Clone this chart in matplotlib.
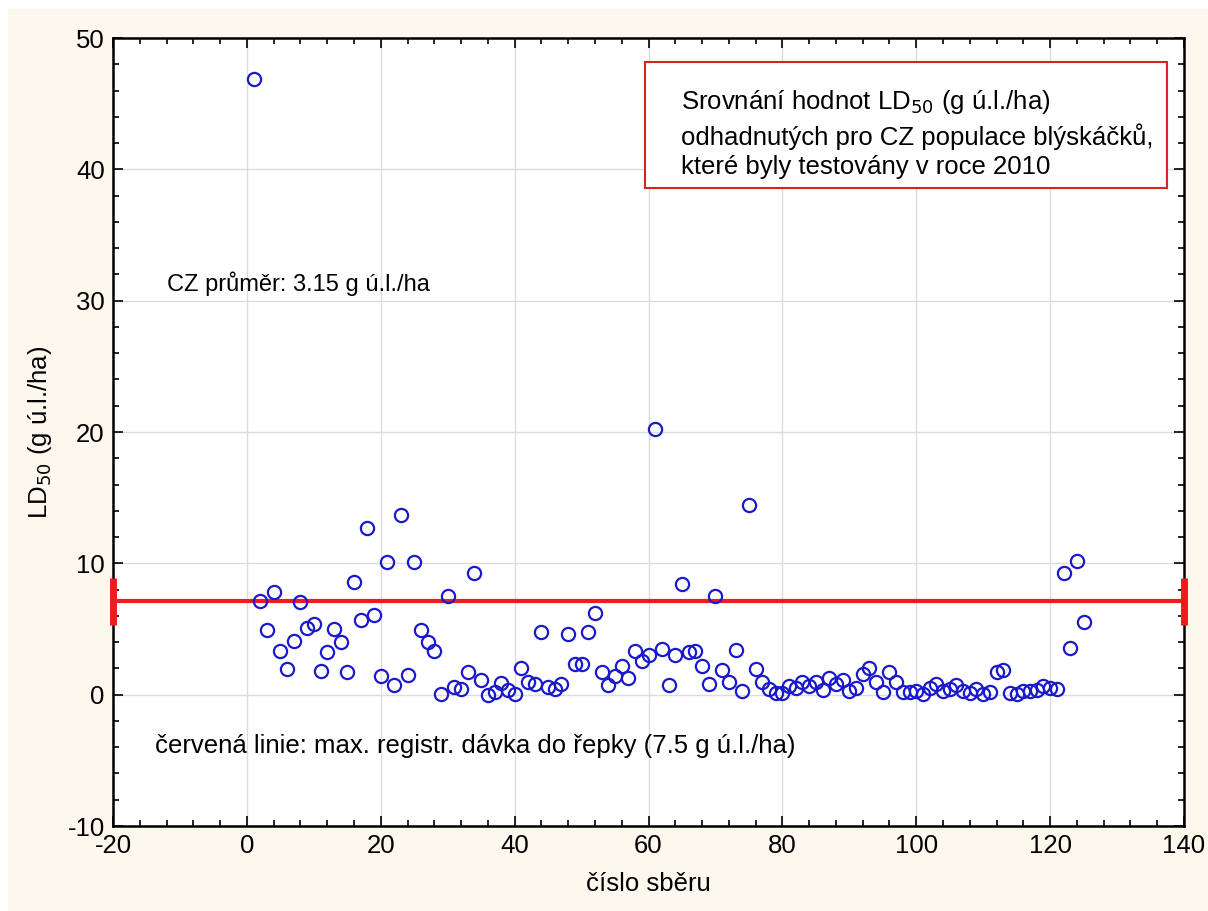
import matplotlib
matplotlib.use("Agg")
import matplotlib.pyplot as plt
from matplotlib.patches import Rectangle
from matplotlib.ticker import MultipleLocator

plt.rcParams['font.family'] = ['Liberation Sans', 'DejaVu Sans']
plt.rcParams['axes.unicode_minus'] = False

# cislo sberu 1..125 a odhadnute LD50 (g u.l./ha)
sber = list(range(1, 126))
ld50 = [46.9, 7.1, 4.95, 7.85, 3.3, 1.95, 4.1, 7.05, 5.1, 5.4,
        1.8, 3.25, 5.0, 4.0, 1.7, 8.6, 5.7, 12.7, 6.1, 1.45,
        10.1, 0.7, 13.7, 1.5, 10.1, 4.9, 4.0, 3.3, 0.05, 7.55,
        0.55, 0.4, 1.75, 9.25, 1.15, 0.0, 0.2, 0.9, 0.35, 0.05,
        2.05, 1.0, 0.8, 4.8, 0.55, 0.4, 0.8, 4.65, 2.35, 2.35,
        4.8, 6.2, 1.75, 0.7, 1.4, 2.15, 1.25, 3.35, 2.6, 3.0,
        20.2, 3.45, 0.75, 3.0, 8.4, 3.25, 3.3, 2.15, 0.8, 7.5,
        1.9, 1.0, 3.4, 0.25, 14.45, 1.95, 0.95, 0.45, 0.15, 0.15,
        0.65, 0.5, 1.0, 0.65, 1.0, 0.35, 1.3, 0.8, 1.15, 0.25,
        0.5, 1.6, 2.05, 0.95, 0.2, 1.7, 0.95, 0.2, 0.2, 0.25,
        0.05, 0.5, 0.8, 0.3, 0.45, 0.75, 0.25, 0.15, 0.4, 0.05,
        0.2, 1.7, 1.85, 0.15, 0.05, 0.25, 0.3, 0.35, 0.65, 0.5,
        0.4, 9.25, 3.55, 10.2, 5.5]

limit_line = 7.1   # poloha cervene linie v grafu
x_lim = (-20, 140)
y_lim = (-10, 50)

fig = plt.figure(figsize=(12.08, 9.11), dpi=100, facecolor='white')
fig.patches.append(Rectangle((8 / 1208, 0), 1, 1 - 9 / 911, transform=fig.transFigure,
                             facecolor='#fdf8ee', edgecolor='none', zorder=-10))
ax = fig.add_axes([113 / 1208, 1 - 826 / 911, (1184 - 113) / 1208, (826 - 38) / 911])
ax.set_facecolor('white')

ax.set_xlim(*x_lim)
ax.set_ylim(*y_lim)
ax.xaxis.set_major_locator(MultipleLocator(20))
ax.xaxis.set_minor_locator(MultipleLocator(4))
ax.yaxis.set_major_locator(MultipleLocator(10))
ax.yaxis.set_minor_locator(MultipleLocator(2))
ax.grid(True, which='major', color='#dcdcdc', linewidth=1)
ax.set_axisbelow(True)
ax.tick_params(which='both', direction='in', top=True, right=True, labelsize=18.5, width=1.2)
ax.tick_params(which='major', length=7, pad=6)
ax.tick_params(which='minor', length=4)
for s in ax.spines.values():
    s.set_linewidth(1.8)

# cervena linie s koncovymi znackami
ax.hlines(limit_line, x_lim[0], x_lim[1], color='#ee1c1c', linewidth=3, zorder=3)
ax.vlines([x_lim[0], x_lim[1]], limit_line - 1.8, limit_line + 1.8, color='#ee1c1c', linewidth=5, zorder=3,
          clip_on=False)

ax.plot(sber, ld50, linestyle='none', marker='o', markersize=9.5, markerfacecolor='none',
        markeredgecolor='#1a1acc', markeredgewidth=1.6, zorder=4)

ax.text(-12, 31.3, 'CZ průměr: 3.15 g ú.l./ha', fontsize=17, va='center', ha='left')
ax.text(-13.8, -3.9, 'červená linie: max. registr. dávka do řepky (7.5 g ú.l./ha)', fontsize=18.5,
        va='center', ha='left')

ax.add_patch(Rectangle((59.5, 38.6), 78.0, 9.6, facecolor='white', edgecolor='#dd2222', linewidth=1.5, zorder=5))
ax.text(64.8, 42.7, 'Srovnání hodnot LD$_{50}$ (g ú.l./ha)\nodhadnutých pro CZ populace blýskáčků,\nkteré byly testovány v roce 2010',
        fontsize=18.5, va='center', ha='left', linespacing=1.3, zorder=6)

ax.set_xlabel('číslo sběru', fontsize=18.5, labelpad=10)
ax.set_ylabel('LD$_{50}$ (g ú.l./ha)', fontsize=18.5, labelpad=10)

fig.savefig('out.png', dpi=100, facecolor=fig.get_facecolor())
